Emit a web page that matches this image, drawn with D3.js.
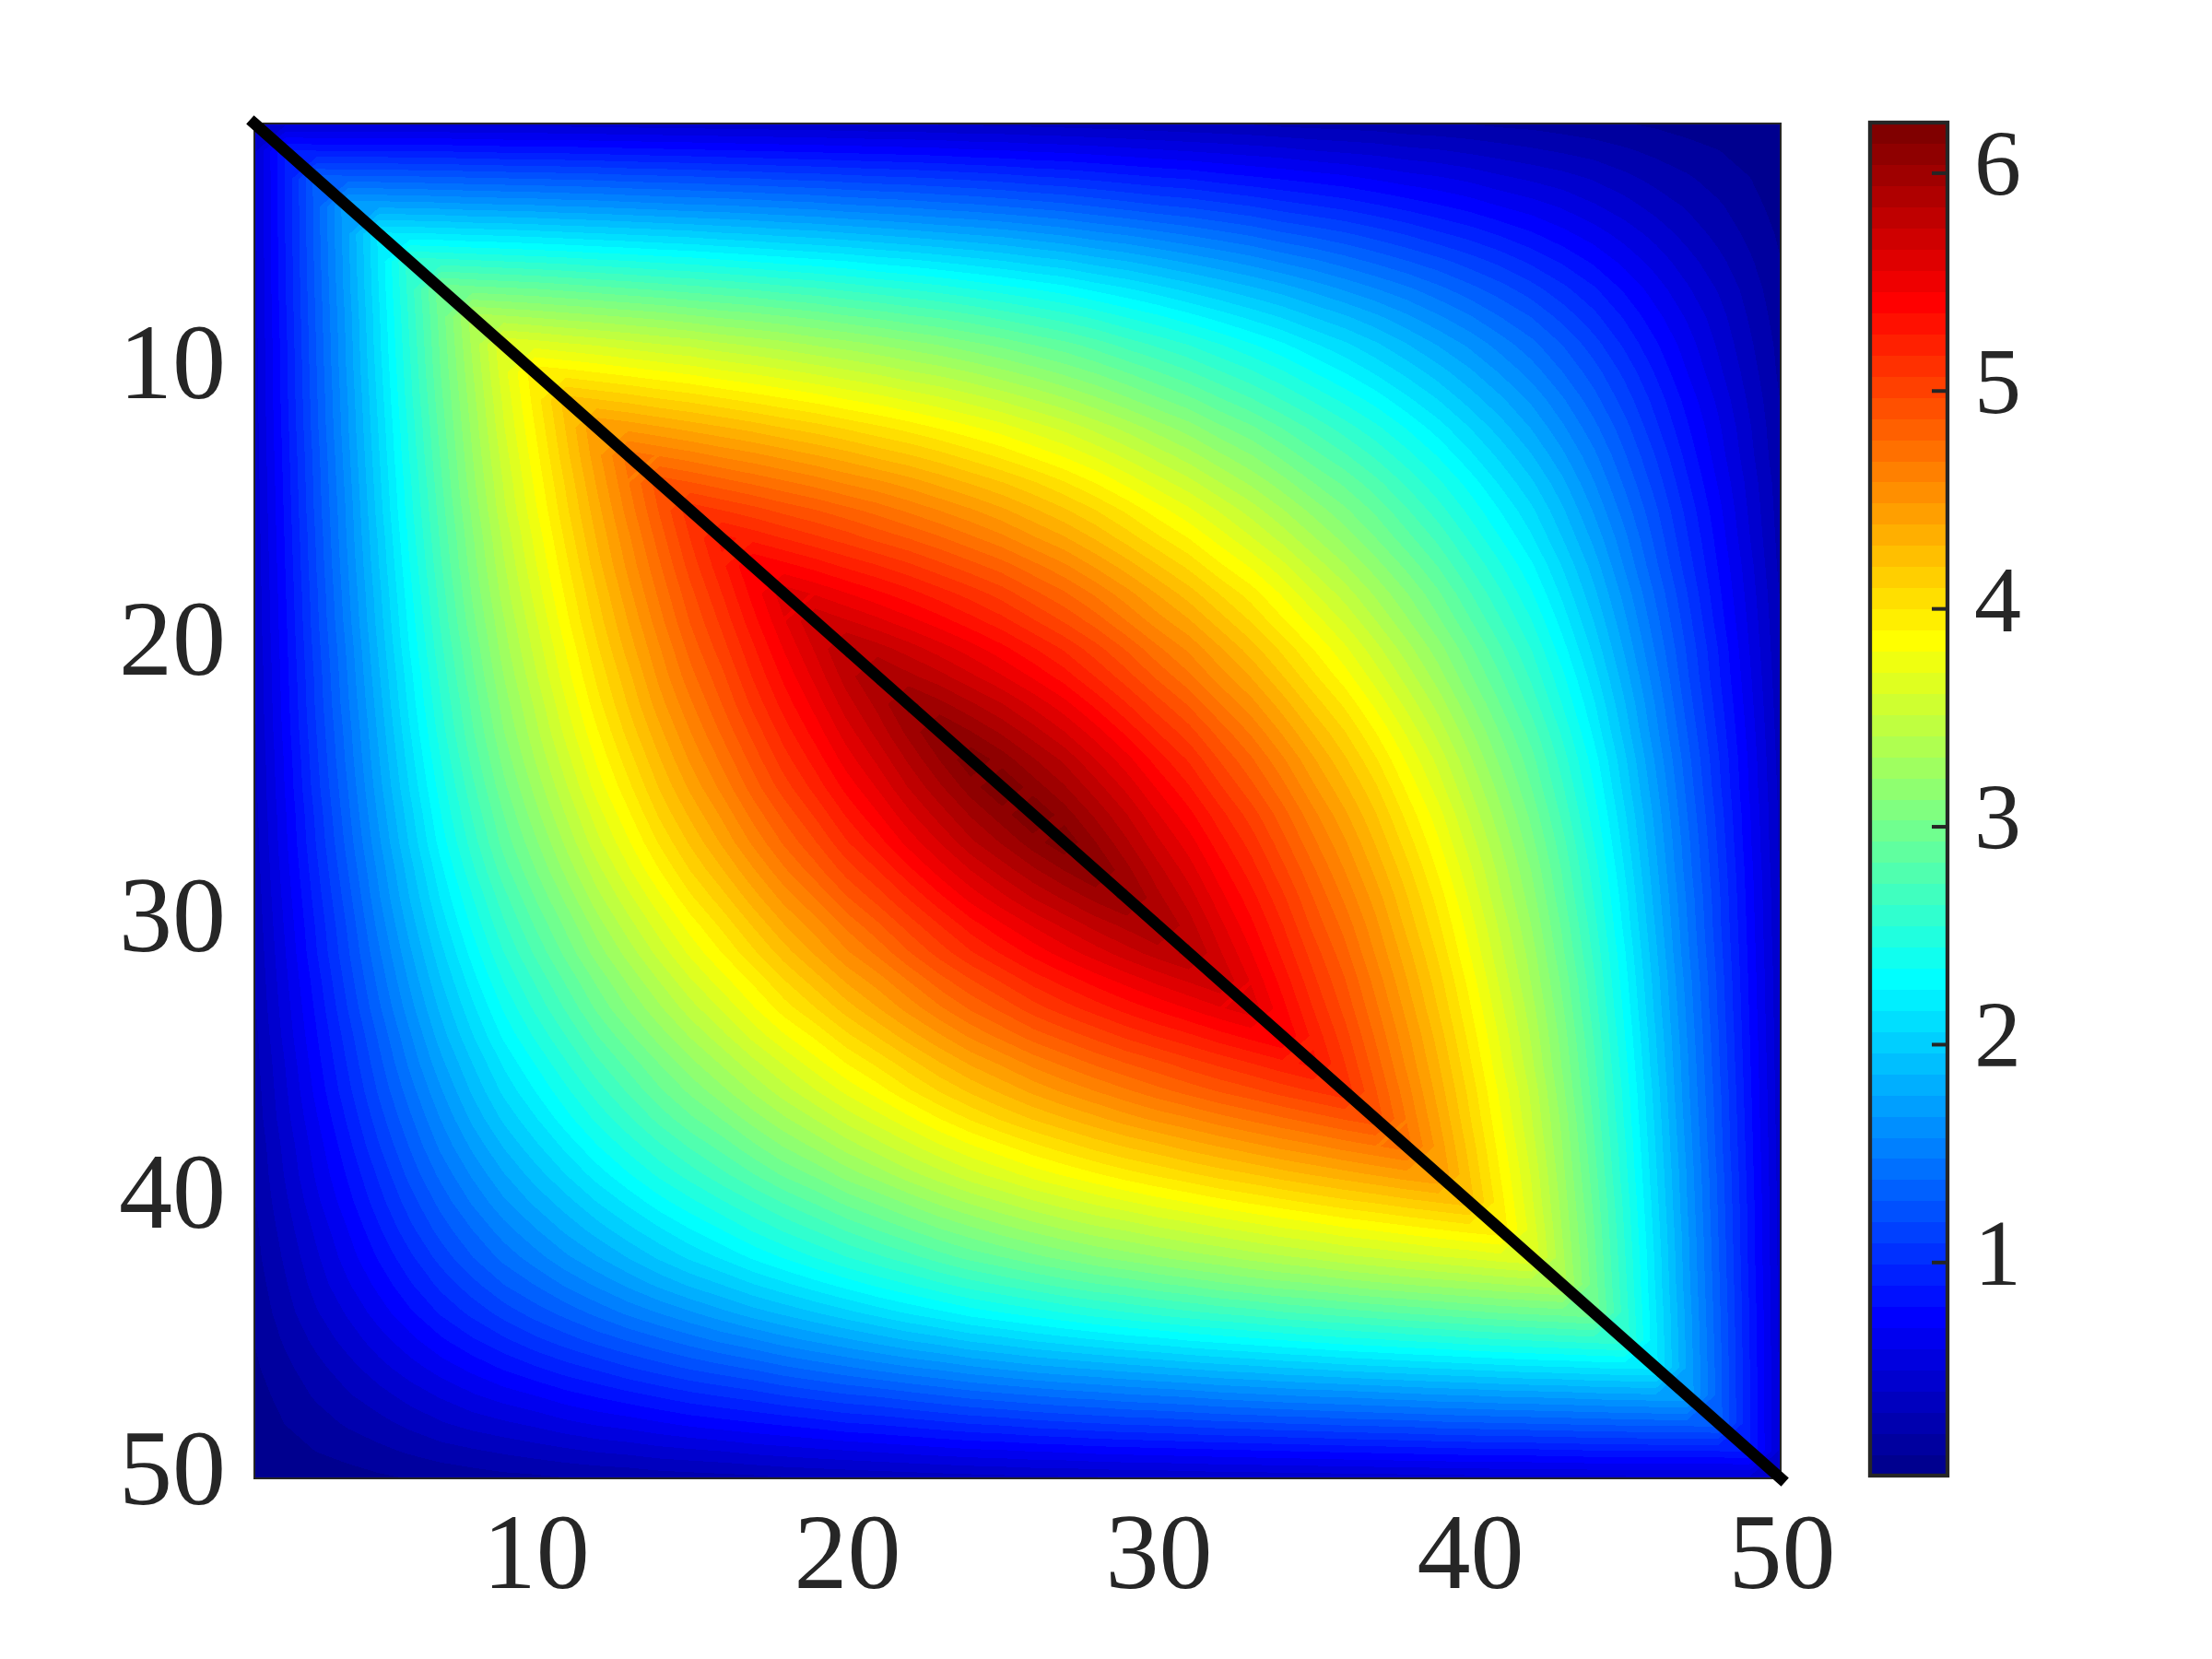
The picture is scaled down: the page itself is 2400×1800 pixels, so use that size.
<!DOCTYPE html>
<html>
<head>
<meta charset="utf-8">
<script src="https://cdn.jsdelivr.net/npm/d3@7"></script>
<style>
  html, body { margin: 0; background: #fff; }
  text { font-family: "Liberation Serif", serif; fill: #262626; }
</style>
</head>
<body>
<div id="chart"></div>
<script>
// Values. The matrix mirrors across both diagonals, so
// each row only lists columns s .. 51-s (row s, 1-based).
const row01 = [.48,.48,.48,.48,.48,.47,.47,.47,.46,.46,.46,.45,.45,.44,.44,.43,.43,.42,.42,.41,.40,.40,.39,.38,.38,.37,.36,.35,.34,.33,.32,.31,.30,.28,.27,.26,.25,.23,.22,.21,.19,.18,.16,.14,.12,.10,.08,.06,.04,.02];
const row02 = [.91,.90,.90,.90,.89,.89,.88,.87,.87,.86,.85,.84,.83,.82,.81,.80,.79,.78,.77,.76,.75,.74,.72,.71,.69,.68,.66,.64,.62,.60,.58,.56,.54,.51,.49,.47,.44,.42,.39,.36,.33,.30,.27,.23,.19,.15,.12,.08];
const row03 = [1.34,1.33,1.33,1.32,1.31,1.30,1.29,1.28,1.27,1.26,1.24,1.23,1.22,1.20,1.19,1.17,1.16,1.14,1.12,1.11,1.09,1.07,1.05,1.02,1.00,.97,.94,.91,.89,.85,.82,.79,.76,.73,.69,.65,.62,.58,.53,.49,.45,.40,.34,.28,.23,.17];
const row04 = [1.76,1.75,1.74,1.73,1.71,1.70,1.69,1.67,1.66,1.64,1.62,1.60,1.59,1.57,1.55,1.53,1.50,1.48,1.46,1.43,1.41,1.38,1.35,1.32,1.28,1.24,1.20,1.17,1.13,1.09,1.04,1.00,.96,.91,.86,.81,.76,.70,.65,.59,.52,.45,.37,.30];
const row05 = [2.18,2.17,2.16,2.14,2.13,2.11,2.09,2.07,2.05,2.03,2.01,1.98,1.96,1.93,1.91,1.88,1.85,1.82,1.79,1.76,1.73,1.69,1.65,1.60,1.56,1.51,1.46,1.41,1.36,1.30,1.25,1.20,1.14,1.08,1.01,.95,.88,.81,.73,.65,.56,.47];
const row06 = [2.61,2.59,2.57,2.55,2.53,2.51,2.48,2.46,2.43,2.41,2.38,2.35,2.32,2.29,2.26,2.22,2.19,2.15,2.11,2.07,2.02,1.98,1.92,1.87,1.81,1.75,1.69,1.63,1.56,1.50,1.43,1.36,1.29,1.22,1.14,1.06,.97,.88,.78,.67];
const row07 = [3.01,2.98,2.96,2.94,2.91,2.88,2.85,2.82,2.79,2.76,2.73,2.69,2.66,2.62,2.58,2.54,2.50,2.45,2.40,2.35,2.30,2.23,2.17,2.10,2.03,1.96,1.89,1.82,1.74,1.66,1.58,1.50,1.41,1.32,1.23,1.13,1.02,.91];
const row08 = [3.37,3.34,3.31,3.28,3.25,3.22,3.19,3.15,3.11,3.08,3.04,3.00,2.95,2.91,2.86,2.82,2.77,2.71,2.65,2.59,2.52,2.44,2.37,2.29,2.21,2.13,2.05,1.96,1.88,1.79,1.69,1.59,1.49,1.38,1.28,1.15];
const row09 = [3.70,3.67,3.63,3.60,3.56,3.52,3.49,3.44,3.40,3.36,3.31,3.27,3.22,3.17,3.12,3.06,3.00,2.93,2.87,2.79,2.70,2.62,2.54,2.45,2.36,2.27,2.17,2.08,1.98,1.87,1.76,1.65,1.53,1.41];
const row10 = [3.97,3.94,3.90,3.86,3.82,3.78,3.73,3.69,3.64,3.59,3.54,3.49,3.43,3.38,3.32,3.25,3.18,3.10,3.02,2.93,2.84,2.75,2.65,2.56,2.46,2.35,2.25,2.14,2.03,1.91,1.79,1.66];
const row11 = [4.24,4.20,4.16,4.11,4.07,4.02,3.97,3.92,3.87,3.81,3.76,3.70,3.64,3.57,3.50,3.42,3.34,3.25,3.15,3.05,2.96,2.85,2.75,2.64,2.53,2.42,2.31,2.18,2.06,1.92];
const row12 = [4.49,4.45,4.40,4.35,4.30,4.25,4.19,4.14,4.08,4.02,3.96,3.89,3.82,3.75,3.66,3.58,3.48,3.38,3.27,3.17,3.05,2.95,2.83,2.71,2.59,2.47,2.34,2.20];
const row13 = [4.72,4.67,4.62,4.56,4.51,4.45,4.39,4.33,4.26,4.20,4.13,4.05,3.97,3.88,3.79,3.69,3.58,3.47,3.36,3.24,3.13,3.00,2.87,2.75,2.62,2.48];
const row14 = [4.93,4.88,4.82,4.76,4.70,4.64,4.57,4.51,4.44,4.36,4.28,4.20,4.11,4.01,3.90,3.78,3.66,3.55,3.42,3.30,3.17,3.03,2.91,2.77];
const row15 = [5.13,5.07,5.01,4.94,4.88,4.81,4.74,4.66,4.58,4.50,4.41,4.31,4.21,4.10,3.98,3.85,3.73,3.60,3.47,3.33,3.19,3.05];
const row16 = [5.29,5.23,5.16,5.09,5.02,4.94,4.87,4.79,4.70,4.61,4.50,4.40,4.28,4.15,4.02,3.90,3.76,3.62,3.48,3.33];
const row17 = [5.46,5.39,5.32,5.24,5.17,5.09,5.00,4.91,4.82,4.71,4.60,4.47,4.34,4.20,4.07,3.92,3.79,3.64];
const row18 = [5.61,5.54,5.46,5.38,5.30,5.21,5.12,5.02,4.90,4.79,4.66,4.52,4.38,4.24,4.09,3.95];
const row19 = [5.74,5.66,5.58,5.49,5.40,5.30,5.20,5.08,4.96,4.83,4.68,4.53,4.40,4.24];
const row20 = [5.87,5.79,5.70,5.60,5.50,5.39,5.27,5.15,5.01,4.86,4.70,4.56];
const row21 = [5.97,5.87,5.78,5.67,5.56,5.44,5.31,5.16,5.01,4.85];
const row22 = [6.07,5.97,5.86,5.75,5.62,5.49,5.33,5.17];
const row23 = [6.15,6.04,5.92,5.79,5.65,5.50];
const row24 = [6.21,6.09,5.95,5.82];
const row25 = [6.23,6.09];

const rows = [row01,row02,row03,row04,row05,row06,row07,row08,row09,row10,row11,row12,row13,
  row14,row15,row16,row17,row18,row19,row20,row21,row22,row23,row24,row25];

const axisTicks = [10, 20, 30, 40, 50];
const colorTicks = [1, 2, 3, 4, 5, 6];
const colorLimits = [0.02, 6.23];
const LEVELS = 64;
const N = 50;

const cell = (i, j) => {
  let s = Math.min(i, j);
  let t = Math.max(i, j);
  if (s + t > N - 1) { [s, t] = [N - 1 - t, N - 1 - s]; }
  return rows[s][t - s];
};
const grid = d3.range(N * N).map(k => cell(Math.floor(k / N), k % N));

// matlab jet(64), L is 1-based
const jetPart = k => (k < 1 || k > 47 ? 0 : k <= 16 ? k / 16 : k <= 31 ? 1 : (48 - k) / 16);
const jet = L => d3.rgb(255 * jetPart(L - 24), 255 * jetPart(L - 8), 255 * jetPart(L + 8)).formatHex();

const svg = d3.select('#chart').append('svg').attr('width', 2400).attr('height', 1800);

const x = d3.scaleLinear().domain([1, N]).range([276, 1932]);
const y = d3.scaleLinear().domain([1, N]).range([134, 1604]);
const c = d3.scaleLinear().domain(colorLimits).range([1601, 133]);

svg.append('clipPath').attr('id', 'plot-clip').append('rect')
  .attr('x', x(1)).attr('y', y(1))
  .attr('width', x(N) - x(1)).attr('height', y(N) - y(1));

const step = (colorLimits[1] - colorLimits[0]) / LEVELS;
const thresholds = d3.range(LEVELS).map(k => colorLimits[0] + k * step);

const contours = d3.contours().size([N, N]).thresholds(thresholds)(grid);
const project = d3.geoPath(d3.geoTransform({
  point(px, py) { this.stream.point(x(px + 0.5), y(py + 0.5)); },
}));

svg.append('g').attr('clip-path', 'url(#plot-clip)')
  .selectAll('path')
  .data(contours)
  .enter()
  .append('path')
  .attr('d', project)
  .attr('fill', (d, k) => jet(k + 1))
  .attr('shape-rendering', 'crispEdges');

svg.append('rect')
  .attr('x', x(1)).attr('y', y(1))
  .attr('width', x(N) - x(1)).attr('height', y(N) - y(1))
  .attr('fill', 'none').attr('stroke', '#262626').attr('stroke-width', 2);

svg.append('line')
  .attr('x1', x(1)).attr('y1', y(1))
  .attr('x2', x(N)).attr('y2', y(N))
  .attr('stroke', '#000').attr('stroke-width', 12.5).attr('stroke-linecap', 'square');

const styleAxis = (g, size) => {
  g.select('.domain').remove();
  g.selectAll('text').style('font-size', `${size}px`).style('fill', '#262626')
    .style('font-family', '"Liberation Serif", serif');
};

svg.append('g').attr('transform', `translate(0,${y(N)})`)
  .call(d3.axisBottom(x).tickValues(axisTicks).tickSize(0).tickPadding(0))
  .call(styleAxis, 116)
  .call(g => g.selectAll('text').attr('dy', null).attr('y', 119).attr('dx', 1));

svg.append('g').attr('transform', `translate(${x(1)},0)`)
  .call(d3.axisLeft(y).tickValues(axisTicks).tickSize(0).tickPadding(31))
  .call(styleAxis, 116)
  .call(g => g.selectAll('text').attr('dy', null).attr('y', 27));

// colorbar
const cbar = svg.append('g');
cbar.selectAll('rect')
  .data(d3.range(LEVELS))
  .enter()
  .append('rect')
  .attr('x', 2029).attr('width', 84)
  .attr('y', k => c(thresholds[k] + step))
  .attr('height', k => c(thresholds[k]) - c(thresholds[k] + step) + 0.5)
  .attr('fill', k => jet(k + 1))
  .attr('shape-rendering', 'crispEdges');

cbar.append('g').attr('transform', 'translate(2113,0)')
  .call(d3.axisRight(c).tickValues(colorTicks).tickFormat(d3.format('d')).tickSize(-17).tickPadding(29))
  .call(styleAxis, 102)
  .call(g => g.selectAll('line').attr('stroke', '#262626').attr('stroke-width', 4))
  .call(g => g.selectAll('text').attr('dy', null).attr('y', 24));

cbar.append('rect')
  .attr('x', 2029).attr('y', 133).attr('width', 84).attr('height', 1468)
  .attr('fill', 'none').attr('stroke', '#262626').attr('stroke-width', 4.3);
</script>
</body>
</html>
